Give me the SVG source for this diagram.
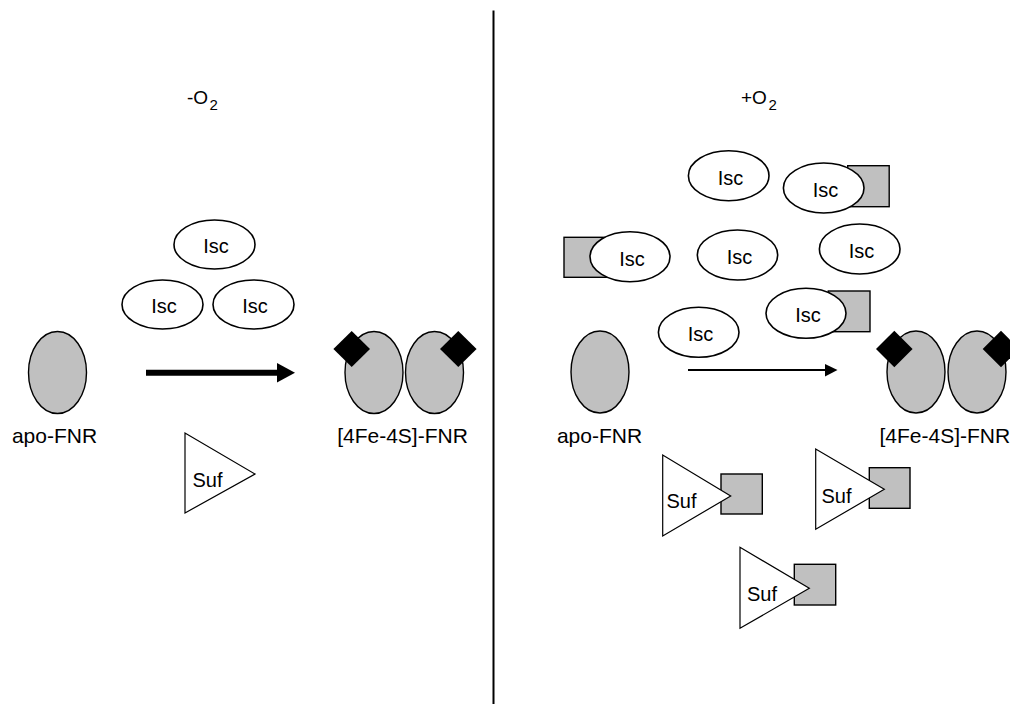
<svg xmlns="http://www.w3.org/2000/svg" width="1010" height="704" viewBox="0 0 1010 704">
<style>
text{font-family:"Liberation Sans",Arial,sans-serif;fill:#000}
.isc{fill:#fff;stroke:#000;stroke-width:1.6}
.fnr{fill:#c0c0c0;stroke:#000;stroke-width:1.4}
.sq{fill:#c0c0c0;stroke:#000;stroke-width:1.4}
.tri{fill:#fff;stroke:#000;stroke-width:1.2}
.dia{fill:#000}
.lbl{font-size:21px}
.it{font-size:20px;text-anchor:middle}
.sf{font-size:20px}
.ttl{font-size:19px}
</style>
<rect width="1010" height="704" fill="#fff"/>
<line x1="493.5" y1="10.5" x2="493.5" y2="704" stroke="#000" stroke-width="2"/>
<text class="ttl" x="187" y="103.5">-O<tspan font-size="15" dx="1.5" dy="6.5">2</tspan></text>
<text class="ttl" x="741" y="103.5">+O<tspan font-size="15" dx="1.5" dy="6.5">2</tspan></text>

<!-- left panel -->
<g id="isc-l1"><ellipse class="isc" cx="214.5" cy="244.5" rx="40.5" ry="24.5"/><text class="it" x="216" y="253.3">Isc</text></g>
<g id="isc-l2"><ellipse class="isc" cx="162.5" cy="304.5" rx="40.5" ry="24.5"/><text class="it" x="164" y="313.3">Isc</text></g>
<g id="isc-l3"><ellipse class="isc" cx="253.5" cy="304.5" rx="40.5" ry="24.5"/><text class="it" x="255" y="313.3">Isc</text></g>
<g id="apo-l"><ellipse class="fnr" cx="57.5" cy="372.5" rx="29" ry="41"/><text class="lbl" x="54.5" y="442.7" text-anchor="middle">apo-FNR</text></g>
<g id="holo-l">
<ellipse class="fnr" cx="374" cy="372.5" rx="29" ry="41"/>
<ellipse class="fnr" cx="434.5" cy="372.5" rx="29" ry="41"/>
<polygon class="dia" points="351.7,331 370,349 351.7,367 333.4,349"/>
<polygon class="dia" points="458.3,331 476.6,349 458.3,367 440,349"/>
<text class="lbl" x="402.5" y="442.7" text-anchor="middle">[4Fe-4S]-FNR</text>
</g>
<g id="suf-l"><polygon class="tri" points="185,433 185,513 255,474"/><text class="sf" x="192.5" y="487">Suf</text></g>

<!-- right panel -->
<g id="isc-r1"><ellipse class="isc" cx="728.7" cy="175.7" rx="40.3" ry="25"/><text class="it" x="730.5" y="184.5">Isc</text></g>
<g id="isc-r2"><rect class="sq" x="847.7" y="165.7" width="41.5" height="41"/><ellipse class="isc" cx="823.7" cy="188" rx="40.3" ry="25"/><text class="it" x="825.5" y="196.8">Isc</text></g>
<g id="isc-r3"><rect class="sq" x="564" y="237.3" width="42.5" height="40"/><ellipse class="isc" cx="630" cy="256.7" rx="40" ry="25"/><text class="it" x="632" y="265.5">Isc</text></g>
<g id="isc-r4"><ellipse class="isc" cx="737.5" cy="255" rx="40.2" ry="25"/><text class="it" x="739.5" y="263.8">Isc</text></g>
<g id="isc-r5"><ellipse class="isc" cx="859.7" cy="249" rx="40.3" ry="25"/><text class="it" x="861.5" y="257.8">Isc</text></g>
<g id="isc-r6"><rect class="sq" x="828.3" y="291" width="41.7" height="40.7"/><ellipse class="isc" cx="806" cy="313.3" rx="40" ry="25"/><text class="it" x="808" y="322.1">Isc</text></g>
<g id="isc-r7"><ellipse class="isc" cx="698.7" cy="332.3" rx="40.3" ry="25"/><text class="it" x="700.5" y="341.1">Isc</text></g>
<g id="apo-r"><ellipse class="fnr" cx="600" cy="372" rx="29" ry="41"/><text class="lbl" x="599.5" y="442.7" text-anchor="middle">apo-FNR</text></g>
<g id="holo-r">
<ellipse class="fnr" cx="916" cy="372" rx="29" ry="41"/>
<ellipse class="fnr" cx="977" cy="372" rx="29" ry="41"/>
<polygon class="dia" points="894.3,330.7 912.6,349 894.3,367.3 876,349"/>
<polygon class="dia" points="1001,330.7 1019.3,349 1001,367.3 982.7,349"/>
<text class="lbl" x="879.5" y="442.7">[4Fe-4S]-FNR</text>
</g>
<g id="suf-r1"><rect class="sq" x="721" y="474" width="41.3" height="40"/><polygon class="tri" points="662.7,455 662.7,536 730.7,496"/><text class="sf" x="666.5" y="508.3">Suf</text></g>
<g id="suf-r2"><rect class="sq" x="869.3" y="467.7" width="40.7" height="40.6"/><polygon class="tri" points="815.7,449 815.7,529.3 884.3,489.3"/><text class="sf" x="821.5" y="503.3">Suf</text></g>
<g id="suf-r3"><rect class="sq" x="794.3" y="564.3" width="41.4" height="40.7"/><polygon class="tri" points="740,547.3 740,628.3 809.3,588.3"/><text class="sf" x="747" y="601">Suf</text></g>

<g id="connectors">
<line x1="146" y1="372.7" x2="279" y2="372.7" stroke="#000" stroke-width="6"/>
<polygon points="277,363 295,372.7 277,382.5" fill="#000"/>
<line x1="688" y1="370" x2="826" y2="370" stroke="#000" stroke-width="2"/>
<polygon points="825,364 837.5,370 825,376.5" fill="#000"/>
</g>
</svg>
